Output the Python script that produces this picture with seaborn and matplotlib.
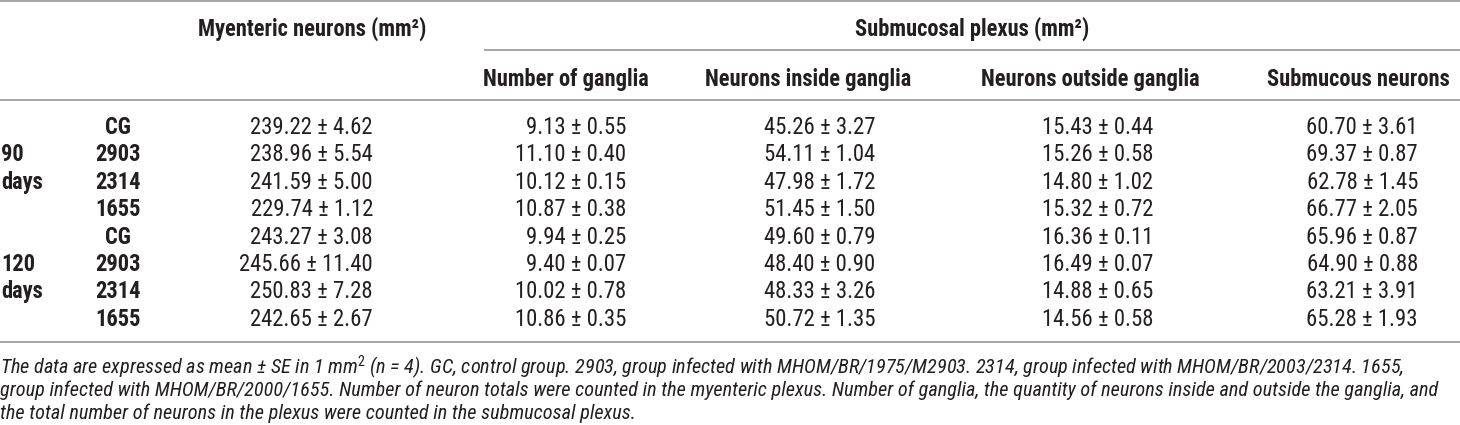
import matplotlib
matplotlib.use("Agg")
import matplotlib.pyplot as plt
from matplotlib import font_manager as fm
import seaborn as sns

# table content
ages = ["90\ndays", "120\ndays"]
groups = ["CG", "2903", "2314", "1655"]
myenteric = ["239.22 ± 4.62", "238.96 ± 5.54", "241.59 ± 5.00", "229.74 ± 1.12",
             "243.27 ± 3.08", "245.66 ± 11.40", "250.83 ± 7.28", "242.65 ± 2.67"]
n_ganglia = ["9.13 ± 0.55", "11.10 ± 0.40", "10.12 ± 0.15", "10.87 ± 0.38",
             "9.94 ± 0.25", "9.40 ± 0.07", "10.02 ± 0.78", "10.86 ± 0.35"]
inside = ["45.26 ± 3.27", "54.11 ± 1.04", "47.98 ± 1.72", "51.45 ± 1.50",
          "49.60 ± 0.79", "48.40 ± 0.90", "48.33 ± 3.26", "50.72 ± 1.35"]
outside = ["15.43 ± 0.44", "15.26 ± 0.58", "14.80 ± 1.02", "15.32 ± 0.72",
           "16.36 ± 0.11", "16.49 ± 0.07", "14.88 ± 0.65", "14.56 ± 0.58"]
submucous = ["60.70 ± 3.61", "69.37 ± 0.87", "62.78 ± 1.45", "66.77 ± 2.05",
             "65.96 ± 0.87", "64.90 ± 0.88", "63.21 ± 3.91", "65.28 ± 1.93"]
top_headers = ["Myenteric neurons (mm²)", "Submucosal plexus (mm²)"]
sub_headers = ["Number of ganglia", "Neurons inside ganglia",
               "Neurons outside ganglia", "Submucous neurons"]
caption = [
    "The data are expressed as mean ± SE in 1 mm$^2$ (n = 4). GC, control group. 2903, group infected with MHOM/BR/1975/M2903. 2314, group infected with MHOM/BR/2003/2314. 1655,",
    "group infected with MHOM/BR/2000/1655. Number of neuron totals were counted in the myenteric plexus. Number of ganglia, the quantity of neurons inside and outside the ganglia, and",
    "the total number of neurons in the plexus were counted in the submucosal plexus.",
]

sns.set_theme(style="white")
names = {f.name for f in fm.fontManager.ttflist}
font = "DejaVu Sans"
for cand in ["Liberation Sans Narrow", "Roboto Condensed", "Liberation Sans", "Roboto"]:
    if cand in names:
        font = cand
        break
plt.rcParams["font.family"] = [font, "DejaVu Sans"]
plt.rcParams["mathtext.fontset"] = "custom"
plt.rcParams["mathtext.it"] = font + ":italic"
plt.rcParams["mathtext.rm"] = font

ink = "#231f20"
rule = "#a6a6a6"

fig = plt.figure(figsize=(14.6, 4.25), dpi=100)
ax = fig.add_axes([0, 0, 1, 1])
ax.set_xlim(0, 1460)
ax.set_ylim(425, 0)
ax.axis("off")
renderer = fig.canvas.get_renderer()


def fit_size(txt, width, **kw):
    t = ax.text(0, 0, txt, fontsize=10, **kw)
    w = t.get_window_extent(renderer).width
    t.remove()
    return 10 * width / w


val_fs = fit_size("239.22 ± 4.62", 122)
head_fs = fit_size("Number of ganglia", 166, fontweight="bold")
cap_fs = min(fit_size(caption[0], 1430, style="italic"),
             fit_size(caption[1], 1432, style="italic"))

# rules
ax.plot([0, 1460], [1, 1], color=rule, lw=1.4, solid_capstyle="butt")
ax.plot([484, 1460], [50, 50], color=rule, lw=1.4, solid_capstyle="butt")
ax.plot([0, 1460], [100, 100], color=rule, lw=1.4, solid_capstyle="butt")
ax.plot([0, 1460], [342, 342], color=rule, lw=1.4, solid_capstyle="butt")

# headers
ax.text(312, 36, top_headers[0], ha="center", va="baseline", fontsize=head_fs,
        fontweight="bold", color=ink)
ax.text(972, 36, top_headers[1], ha="center", va="baseline", fontsize=head_fs,
        fontweight="bold", color=ink)
for x, h in zip([566, 808, 1090, 1358], sub_headers):
    ax.text(x, 86, h, ha="center", va="baseline", fontsize=head_fs,
            fontweight="bold", color=ink)

# body
row0, step = 134, 27.4
columns = [myenteric, n_ganglia, inside, outside, submucous]
right_edges = [373, 626, 875, 1153, 1418]
for b, age in enumerate(ages):
    first, second = age.split("\n")
    ax.text(1, row0 + (4 * b + 1) * step, first, ha="left", va="baseline",
            fontsize=head_fs, fontweight="bold", color=ink)
    ax.text(1, row0 + (4 * b + 2) * step, second, ha="left", va="baseline",
            fontsize=head_fs, fontweight="bold", color=ink)
    for g, grp in enumerate(groups):
        ax.text(118, row0 + (4 * b + g) * step, grp, ha="center", va="baseline",
                fontsize=head_fs, fontweight="bold", color=ink)

for col, xr in zip(columns, right_edges):
    for i, v in enumerate(col):
        ax.text(xr, row0 + i * step, v, ha="right", va="baseline",
                fontsize=val_fs, color=ink)

# footnote
for k, line in enumerate(caption):
    ax.text(0, 374 + k * 22.5, line, ha="left", va="baseline", fontsize=cap_fs,
            style="italic", color=ink)

fig.savefig("out.png", dpi=100)
